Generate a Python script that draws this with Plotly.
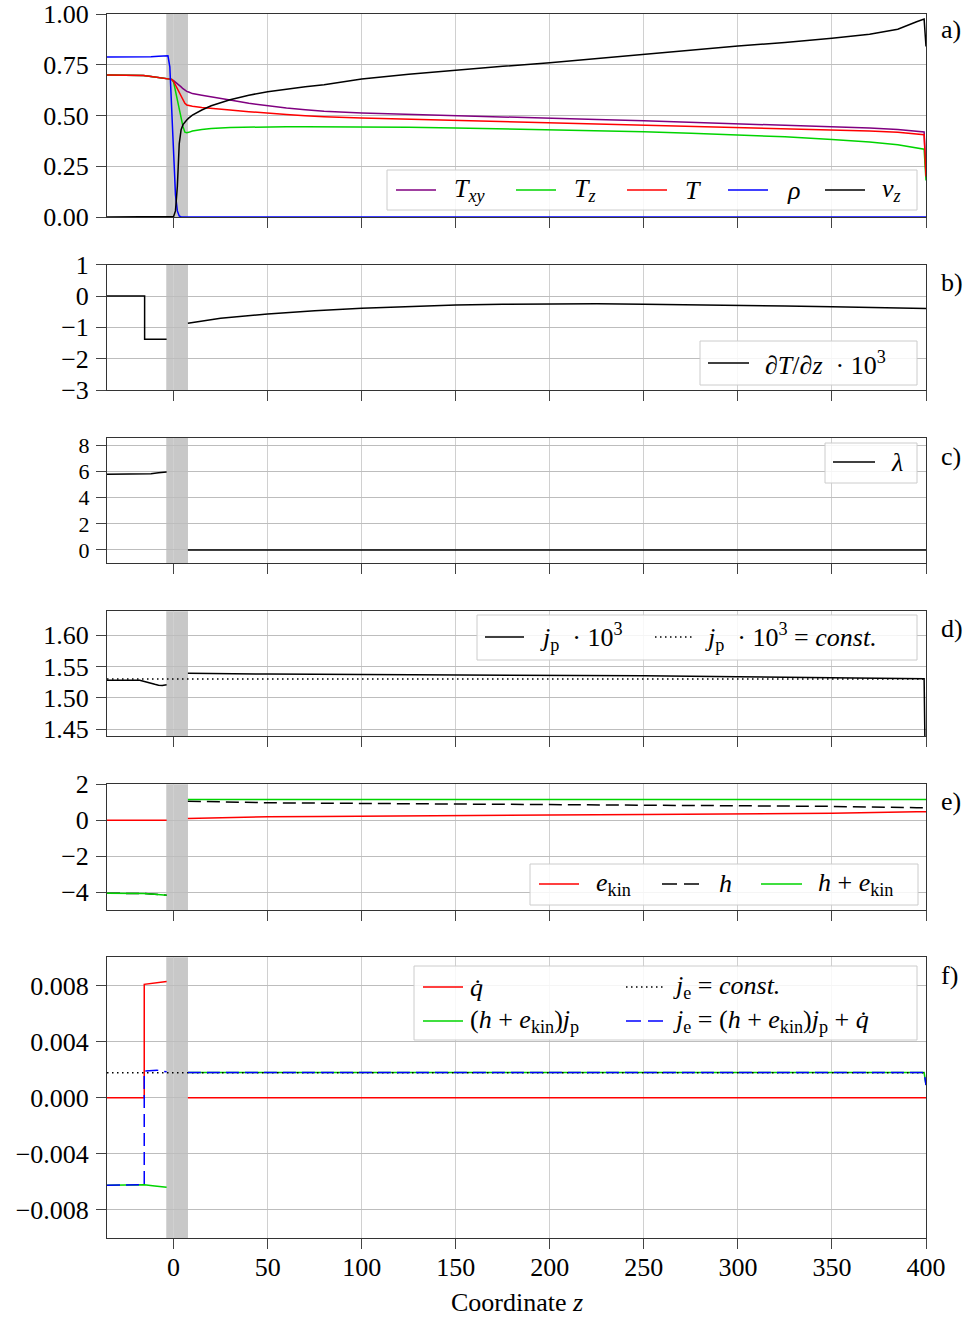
import plotly.graph_objects as go

# ---------------- data ----------------
# panel a) common z grid
z_a = [-35.4, -30, -25, -20, -16, -12, -8, -5, -3, -2,
       -1, 0, 1, 2, 3, 4, 5, 6, 7, 8,
       10, 15, 20, 30, 40, 50, 60, 70, 80, 100,
       125, 150, 175, 200, 225, 250, 275, 300, 325, 350,
       370, 385, 395, 399, 400]
T_xy = [0.700, 0.700, 0.700, 0.699, 0.697, 0.692, 0.687, 0.683, 0.681, 0.680,
        0.678, 0.672, 0.665, 0.658, 0.650, 0.641, 0.632, 0.625, 0.619, 0.616,
        0.608, 0.600, 0.593, 0.576, 0.560, 0.547, 0.537, 0.528, 0.521, 0.512,
        0.505, 0.499, 0.493, 0.487, 0.480, 0.474, 0.467, 0.460, 0.453, 0.445,
        0.438, 0.431, 0.424, 0.419, 0.21]
T_z = [0.700, 0.700, 0.700, 0.699, 0.697, 0.692, 0.687, 0.683, 0.681, 0.680,
       0.678, 0.665, 0.620, 0.575, 0.530, 0.480, 0.445, 0.418, 0.415, 0.417,
       0.424, 0.431, 0.436, 0.441, 0.443, 0.445, 0.445, 0.445, 0.445, 0.444,
       0.442, 0.439, 0.435, 0.431, 0.426, 0.420, 0.413, 0.405, 0.395, 0.382,
       0.370, 0.356, 0.342, 0.334, 0.18]
T_all = [0.700, 0.700, 0.700, 0.699, 0.697, 0.692, 0.687, 0.683, 0.681, 0.680,
         0.678, 0.668, 0.650, 0.632, 0.614, 0.596, 0.578, 0.560, 0.552, 0.549,
         0.546, 0.540, 0.535, 0.527, 0.519, 0.511, 0.505, 0.499, 0.494, 0.488,
         0.482, 0.477, 0.472, 0.466, 0.460, 0.454, 0.448, 0.442, 0.436, 0.430,
         0.424, 0.417, 0.410, 0.405, 0.20]
rho = [0.788, 0.788, 0.788, 0.788, 0.789, 0.790, 0.792, 0.794, 0.794, 0.740,
       0.520, 0.310, 0.110, 0.030, 0.005, 0, 0, 0, 0, 0,
       0, 0, 0, 0, 0, 0, 0, 0, 0, 0,
       0, 0, 0, 0, 0, 0, 0, 0, 0, 0,
       0, 0, 0, 0, 0]
v_z = [0, 0, 0, 0, 0, 0, 0, 0, 0, 0,
       0, 0.002, 0.03, 0.15, 0.36, 0.43, 0.455, 0.468, 0.478, 0.487,
       0.502, 0.527, 0.548, 0.578, 0.600, 0.617, 0.630, 0.642, 0.652, 0.680,
       0.703, 0.724, 0.742, 0.760, 0.781, 0.803, 0.822, 0.842, 0.860, 0.880,
       0.900, 0.925, 0.962, 0.975, 0.84]

# panel b) dT/dz * 10^3
z_b_left = [-35.4, -15.4, -15.4, -3.7]
dTdz_left = [0, 0, -1.38, -1.38]
z_b_right = [7.6, 25, 50, 75, 100, 125, 150, 175, 200, 225, 250, 275, 300, 325, 350, 375, 400]
dTdz_right = [-0.87, -0.71, -0.575, -0.47, -0.39, -0.33, -0.29, -0.265, -0.25, -0.25,
              -0.26, -0.275, -0.295, -0.32, -0.345, -0.37, -0.395]

# panel c) lambda
z_c_left = [-35.4, -16, -12, -8, -3.7]
lam_left = [5.79, 5.79, 5.83, 5.90, 5.96]
z_c_right = [7.6, 400]
lam_right = [0, 0]

# panel d) j_p * 10^3
z_d_left = [-35.4, -30, -25, -21, -18, -16, -14, -12, -10, -8, -6, -3.7]
jp_left = [1.528, 1.528, 1.528, 1.5285, 1.528, 1.5265, 1.5245, 1.523, 1.5215, 1.520, 1.5195, 1.521]
z_d_right = [7.6, 20, 50, 100, 150, 200, 250, 300, 350, 399, 400]
jp_right = [1.539, 1.5385, 1.5378, 1.5372, 1.5367, 1.5362, 1.5350, 1.5335, 1.5318, 1.5305, 1.30]
z_const = [-35.4, 400]
jp_const = [1.5298, 1.5298]

# panel e) energies
z_e_left = [-35.4, -25, -16, -10, -3.7]
ekin_left = [0, 0, 0, 0, 0]
h_left = [-4.07, -4.07, -4.08, -4.12, -4.18]
hek_left = [-4.07, -4.07, -4.08, -4.12, -4.18]
z_e_right = [7.6, 25, 50, 78, 100, 150, 200, 250, 300, 350, 395, 400]
ekin_right = [0.10, 0.145, 0.19, 0.21, 0.23, 0.26, 0.29, 0.325, 0.355, 0.39, 0.465, 0.47]
h_right = [1.06, 1.015, 0.97, 0.95, 0.93, 0.90, 0.87, 0.835, 0.805, 0.77, 0.695, 0.69]
hek_right = [1.16, 1.16, 1.16, 1.16, 1.16, 1.16, 1.16, 1.16, 1.16, 1.16, 1.16, 1.16]

# panel f) fluxes
z_q_left = [-35.4, -15.6, -15.6, -3.7]
qdot_left = [0, 0, 0.0081, 0.0083]
z_q_right = [7.6, 400]
qdot_right = [0, 0]
z_hj_left = [-35.4, -25, -15.6, -10, -3.7]
hekjp_left = [-0.00625, -0.00625, -0.00622, -0.0063, -0.0064]
z_hj_right = [7.6, 399, 400]
hekjp_right = [0.0018, 0.0018, 0.0009]
z_je_left = [-35.4, -25, -15.6, -15.6, -8.9, -3.7]
je_left = [-0.00625, -0.00625, -0.00622, 0.0019, 0.00197, 0.00185]
z_je_right = [7.6, 399, 400]
je_right = [0.0018, 0.0018, 0.0009]
je_const = [0.00178, 0.00178]

SHADE = [-3.9, 7.65]
X_RANGE = [-35.4, 400]
X_TICKS = [0, 50, 100, 150, 200, 250, 300, 350, 400]

# ---------------- layout geometry ----------------
FONT = "Liberation Serif"
FS = 26
W, H = 968, 1320
ML, MR, MT, MB = 107, 42, 14, 82
PW, PH = W - ML - MR, H - MT - MB


def fx(p):
    return (p - ML) / PW


def fy(p):
    return (H - MB - p) / PH


def clamp(v):
    return min(1.0, max(0.0, v))


panel_px = [(14, 217), (264.7, 390), (438, 563.3), (611.3, 736), (784.3, 910), (957.3, 1238)]
y_ranges = [[0, 1], [-3, 1], [-1.02, 8.56], [1.4393, 1.6377], [-5, 2], [-0.01002, 0.01003]]
y_ticks = [[0, 0.25, 0.5, 0.75, 1.0], [-3, -2, -1, 0, 1], [0, 2, 4, 6, 8],
           [1.45, 1.50, 1.55, 1.60], [-4, -2, 0, 2], [-0.008, -0.004, 0, 0.004, 0.008]]
y_fmt = ['{:.2f}', '{:.0f}', '{:.0f}', '{:.2f}', '{:.0f}', '{:.3f}']
y_fs = [FS, FS, 22, FS, FS, FS]

PURPLE, GREEN, RED, BLUE, BLACK = '#800080', '#00d400', '#ff0000', '#0000ff', '#000000'
DASH_H = '13px,6px'
DASH_JE = '13px,6px'
DOT = '1.5px,3.5px'

fig = go.Figure()


def ax(i):
    return ('x' if i == 1 else f'x{i}'), ('y' if i == 1 else f'y{i}')


def add(i, zl, yl, color, dash='solid', width=1.5):
    xa, ya = ax(i)
    fig.add_trace(go.Scatter(x=zl, y=yl, mode='lines', xaxis=xa, yaxis=ya,
                             line=dict(color=color, width=width, dash=dash),
                             showlegend=False, hoverinfo='skip'))


def seg(a, b):
    return list(a) + [None] + list(b)


# a)
add(1, z_a, T_xy, PURPLE)
add(1, z_a, T_z, GREEN)
add(1, z_a, T_all, RED)
add(1, z_a, rho, BLUE)
add(1, z_a, v_z, BLACK)
# b)
add(2, seg(z_b_left, z_b_right), seg(dTdz_left, dTdz_right), BLACK)
# c)
add(3, seg(z_c_left, z_c_right), seg(lam_left, lam_right), BLACK)
# d)
add(4, seg(z_d_left, z_d_right), seg(jp_left, jp_right), BLACK)
add(4, z_const, jp_const, BLACK, dash=DOT)
# e)
add(5, seg(z_e_left, z_e_right), seg(ekin_left, ekin_right), RED)
add(5, seg(z_e_left, z_e_right), seg(h_left, h_right), BLACK, dash=DASH_H)
add(5, seg(z_e_left, z_e_right), seg(hek_left, hek_right), GREEN)
# f)
add(6, seg(z_q_left, z_q_right), seg(qdot_left, qdot_right), RED)
add(6, seg(z_hj_left, z_hj_right), seg(hekjp_left, hekjp_right), GREEN)
add(6, z_const, je_const, BLACK, dash=DOT)
add(6, seg(z_je_left, z_je_right), seg(je_left, je_right), BLUE, dash=DASH_JE)

layout = dict(width=W, height=H, autosize=False,
              margin=dict(l=ML, r=MR, t=MT, b=MB, pad=0, autoexpand=False),
              paper_bgcolor='white', plot_bgcolor='white',
              font=dict(family=FONT, size=FS, color='black'))
shapes, annotations = [], []
for i in range(1, 7):
    top, bot = panel_px[i - 1]
    xk = 'xaxis' if i == 1 else f'xaxis{i}'
    yk = 'yaxis' if i == 1 else f'yaxis{i}'
    xa, ya = ax(i)
    xd = dict(domain=[0, 1], range=X_RANGE, anchor=ya, tickmode='array', tickvals=X_TICKS,
              ticktext=[str(v) for v in X_TICKS], showticklabels=(i == 6), ticks='outside',
              ticklen=10, tickwidth=1, tickcolor='#444', showgrid=True, gridcolor='#d0d0d0',
              gridwidth=1, zeroline=False, showline=True, mirror=True, linecolor='#333',
              linewidth=1, automargin=False, ticklabelstandoff=-4,
              tickfont=dict(family=FONT, size=FS, color='black'))
    if i > 1:
        xd['matches'] = 'x'
    layout[xk] = xd
    tv = y_ticks[i - 1]
    tt = [y_fmt[i - 1].format(v).replace('-', '\u2212') for v in tv]
    layout[yk] = dict(domain=[clamp(fy(bot)), clamp(fy(top))], range=y_ranges[i - 1], anchor=xa,
                      tickmode='array', tickvals=tv, ticktext=tt, ticks='outside', ticklen=10,
                      tickwidth=1, tickcolor='#444', showgrid=True, gridcolor='#bdbdbd',
                      gridwidth=1, zeroline=False, showline=True, mirror=True,
                      linecolor='#333', linewidth=1, automargin=False, ticklabelstandoff=2,
                      tickfont=dict(family=FONT, size=y_fs[i - 1], color='black'))
    shapes.append(dict(type='rect', xref=xa, yref=f'{ya} domain', x0=SHADE[0], x1=SHADE[1],
                       y0=0, y1=1, fillcolor='#c8c8c8', line=dict(width=0), layer='below'))


def leg_box(x0, y0, x1, y1):
    shapes.append(dict(type='rect', xref='paper', yref='paper', x0=fx(x0), x1=fx(x1),
                       y0=fy(y1), y1=fy(y0), line=dict(color='#cccccc', width=1),
                       fillcolor='rgba(255,255,255,0.85)', layer='above'))


def leg_line(x0, x1, y, color, dash='solid'):
    shapes.append(dict(type='line', xref='paper', yref='paper', x0=fx(x0), x1=fx(x1),
                       y0=fy(y), y1=fy(y), line=dict(color=color, width=1.5, dash=dash),
                       layer='above'))


def label(x, y, text, anchor='left'):
    annotations.append(dict(xref='paper', yref='paper', x=fx(x), y=fy(y), text=text,
                            showarrow=False, xanchor=anchor, yanchor='middle',
                            font=dict(family=FONT, size=FS, color='black')))


NB = '\u00a0'
# legend a)
leg_box(387, 170, 917, 210)
for (x0, x1, col, lx, txt) in [
        (396, 436, PURPLE, 452, '<i>T</i><sub><i>xy</i></sub>'),
        (516, 556, GREEN, 572, '<i>T</i><sub><i>z</i></sub>'),
        (627, 667, RED, 683, '<i>T</i>'),
        (728, 768, BLUE, 785, '<i>ρ</i>'),
        (825, 865, BLACK, 880, '<i>v</i><sub><i>z</i></sub>')]:
    leg_line(x0, x1, 190, col)
    label(lx, 190, txt)
# legend b)
leg_box(700, 341, 917, 385)
leg_line(708, 749, 363, BLACK)
label(763, 363, f'∂<i>T</i>/∂<i>z</i>{NB}{NB}·{NB}10<sup>3</sup>')
# legend c)
leg_box(825, 443, 917, 483)
leg_line(833, 875, 462, BLACK)
label(889, 462, '<i>λ</i>')
# legend d)
leg_box(477, 615, 917, 660)
leg_line(485, 524, 637, BLACK)
label(538, 637, f'<i>j</i><sub>p</sub>{NB}{NB}·{NB}10<sup>3</sup>')
leg_line(655, 693, 637, BLACK, dash=DOT)
label(703, 637, f'<i>j</i><sub>p</sub>{NB}{NB}·{NB}10<sup>3</sup> = <i>const.</i>')
# legend e)
leg_box(530, 864, 918, 905)
leg_line(539, 579, 884, RED)
label(594, 884, '<i>e</i><sub>kin</sub>')
leg_line(662, 699, 884, BLACK, dash='15px,7px')
label(717, 884, '<i>h</i>')
leg_line(761, 802, 884, GREEN)
label(816, 884, '<i>h</i> + <i>e</i><sub>kin</sub>')
# legend f)
leg_box(414, 966, 917, 1040)
leg_line(423, 463, 987, RED)
label(468, 987, '<i>q̇</i>')
leg_line(626, 666, 987, BLACK, dash=DOT)
label(671, 987, '<i>j</i><sub>e</sub> = <i>const.</i>')
leg_line(423, 463, 1021, GREEN)
label(468, 1021, '(<i>h</i> + <i>e</i><sub>kin</sub>)<i>j</i><sub>p</sub>')
leg_line(626, 666, 1021, BLUE, dash='15px,7px')
label(671, 1021, '<i>j</i><sub>e</sub> = (<i>h</i> + <i>e</i><sub>kin</sub>)<i>j</i><sub>p</sub> + <i>q̇</i>')

# panel labels
for txt, yy in zip(['a)', 'b)', 'c)', 'd)', 'e)', 'f)'], [30, 282, 456, 628, 802, 975]):
    label(939, yy, txt)

# x-axis title
annotations.append(dict(xref='paper', yref='paper', x=0.5, y=fy(1302), text='Coordinate <i>z</i>',
                        showarrow=False, xanchor='center', yanchor='middle',
                        font=dict(family=FONT, size=FS, color='black')))

layout['shapes'] = shapes
layout['annotations'] = annotations
fig.update_layout(**layout)
fig.write_html('out.html')
